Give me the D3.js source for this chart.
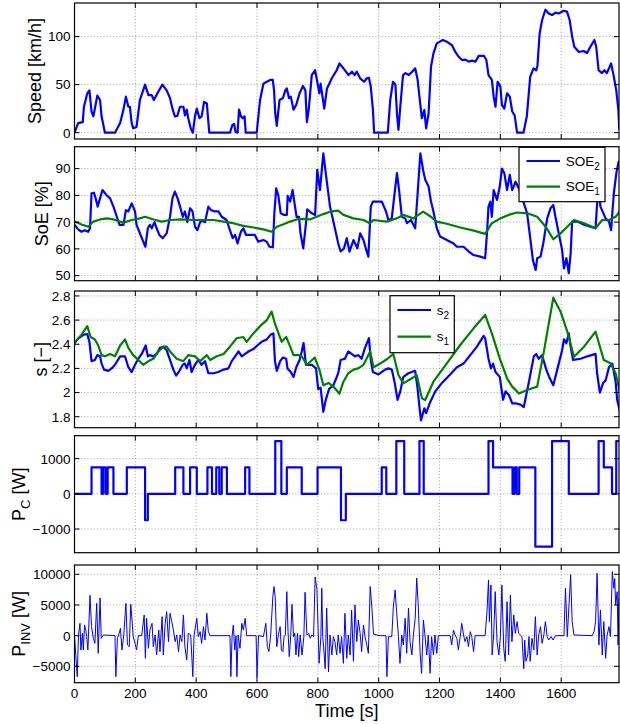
<!DOCTYPE html>
<html><head><meta charset="utf-8">
<script src="https://cdn.jsdelivr.net/npm/d3@7"></script>
<style>body{margin:0;background:#fff}svg{display:block}text{font-family:"Liberation Sans",Arial,Helvetica,sans-serif;fill:#000}</style>
</head><body><svg id="c" width="620" height="724"></svg>
<script>
// ---------------- DATA ----------------
const xTicks = [0,200,400,600,800,1000,1200,1400,1600];
const speedTicks = [0,50,100];
const soeTicks = [50,60,70,80,90];
const sTicks = [1.8,2,2.2,2.4,2.6,2.8];
const pcTicks = [-1000,0,1000];
const pinvTicks = [-5000,0,5000,10000];

const speed = [[0,0],[12,10],[27,11],[31,27],[42,41],[49,44],[56,22],[62,17],[75,38.5],[84,34],[89,17],[100,0],[133,0],[150,10],[161,24],[169,37.5],[177,27],[182,27],[188,10],[193,4.5],[204,6],[215,34],[232,50],[243,39],[254,39],[261,34],[276,43],[289,50],[303,44],[314,36],[322,25],[330,17],[338,17.5],[347,27],[358,27],[363,18],[369,24],[374,15],[382,4.5],[389,0],[396,17],[402,25],[411,15],[418,17],[426,32],[435,30.5],[443,0],[511,0],[519,8],[525,9],[529,1],[536,0],[541,24],[547,17],[553,15],[559,17],[563,0],[599,0],[610,34],[621,51],[632,53],[645,55],[652,55],[656,44],[660,20],[665,7],[674,34],[685,36],[693,44],[698,46],[705,36],[711,37.5],[720,24],[729,29],[740,41],[751,48.6],[759,44],[764,11],[770,24],[780,60],[791,65],[798,53],[805,41],[809,51],[821,25],[830,46],[846,56.6],[862,65],[871,72],[884,67],[901,60],[912,63.5],[921,60],[928,63.5],[939,56.6],[952,53],[961,56.6],[968,57],[974,48],[981,24],[985,0],[1030,0],[1038,34],[1047,53],[1055,50],[1060,20],[1065,3],[1071,27],[1080,60],[1088,62],[1099,60],[1110,63.5],[1120,67],[1128,55],[1134,37.5],[1142,15],[1150,23.6],[1156,4.5],[1164,20],[1172,68.7],[1180,82.6],[1191,93],[1211,96.5],[1224,94.7],[1241,91],[1252,84],[1263,79],[1274,75.6],[1285,76],[1296,74],[1307,75],[1318,74],[1329,80],[1346,80],[1354,75.6],[1361,60],[1372,55],[1378,37.5],[1384,27],[1391,53],[1400,48],[1405,29],[1413,25],[1422,41],[1431,37.5],[1439,22],[1447,18],[1455,0],[1476,0],[1487,17],[1498,58],[1509,67],[1518,65],[1522,70],[1529,103],[1537,117],[1548,128],[1559,124],[1570,122.5],[1581,125],[1592,124],[1608,127],[1619,126],[1628,117],[1636,100],[1643,89.5],[1658,84],[1674,85],[1685,83],[1696,89.5],[1709,96.5],[1715,89.5],[1723,65],[1734,62],[1742,65],[1750,62],[1764,72],[1772,60],[1781,44],[1788,23.6],[1791,3]];

const soe2 = [[0,69],[12,67.3],[23,66.4],[34,67],[45,66.4],[51,67.7],[56,80.8],[64,81],[71,78.3],[76,75.8],[84,78.9],[92,82],[106,80],[117,78.9],[128,75.8],[139,72],[148,69],[161,69],[169,74.5],[177,74],[188,77],[199,74],[204,69],[213,66.4],[224,63.3],[233,60.8],[241,67.7],[248,69],[254,67.7],[263,70],[270,67.7],[279,65.2],[290,64],[303,65.8],[314,72],[322,78.9],[330,81.4],[339,78.9],[347,75.8],[356,72],[363,74],[371,70],[380,75.2],[388,74],[396,68.3],[404,67],[413,70],[421,70.5],[429,70],[440,75.8],[449,74.5],[462,74],[473,74],[484,72],[500,70.8],[511,67],[520,64],[528,65.2],[536,62],[547,66.4],[555,67.7],[564,65.2],[579,65.2],[593,65.2],[604,62.7],[621,63.3],[632,62.7],[641,60.8],[652,60.6],[657,73.3],[663,82.6],[670,80],[678,73.3],[689,72.7],[698,72.7],[701,79.8],[709,77.7],[717,82],[725,75.8],[730,72],[738,72],[743,65.8],[752,60.2],[761,69.6],[765,74.8],[780,73.3],[791,72.7],[798,89.5],[807,82],[818,95.7],[826,88.3],[840,75.8],[856,67.7],[867,62],[875,59],[886,60.2],[895,64],[904,59],[917,63.3],[930,60.2],[939,65.8],[950,63.3],[959,59.6],[966,57.1],[974,75.8],[981,77.7],[1010,77.7],[1024,74],[1032,70.8],[1043,71.4],[1051,79.5],[1060,88.3],[1067,82],[1076,72],[1087,71.4],[1093,69.6],[1106,70.8],[1120,67.7],[1128,80.8],[1137,95.7],[1146,89.5],[1153,85.8],[1164,83.3],[1172,77.7],[1180,74],[1191,67.7],[1202,64.6],[1224,63.3],[1246,62],[1257,60.8],[1279,60.8],[1296,59],[1312,57.7],[1334,57.1],[1350,56.5],[1356,65.8],[1361,75.8],[1367,77.7],[1372,72],[1378,82],[1389,78.3],[1398,83.3],[1405,90],[1413,88.3],[1422,82],[1431,87.7],[1439,82],[1450,85.1],[1461,82.6],[1472,78.9],[1488,73.3],[1499,63.3],[1507,55.8],[1516,52.1],[1521,56.5],[1532,57.1],[1541,62],[1554,71.4],[1565,75.2],[1574,76.4],[1581,72],[1592,65.8],[1603,59.6],[1609,52.7],[1617,56.5],[1625,50.9],[1631,58.3],[1636,70.2],[1653,70.2],[1675,69],[1696,68.3],[1713,67.7],[1718,77],[1724,82],[1729,75.8],[1746,71.4],[1757,70.2],[1764,67],[1773,80.8],[1782,88.9],[1789,92.6],[1794,92]];

const soe1 = [[0,70.2],[25,69],[45,68.3],[62,70.2],[84,71],[106,71.4],[128,71],[161,69.8],[188,70.8],[215,71.4],[232,72],[260,71],[287,70.2],[314,70.8],[352,71],[391,70.8],[424,70.8],[457,70.8],[490,70.2],[522,69.6],[555,68.6],[588,68],[621,67.3],[648,66.4],[665,68.3],[687,69.2],[709,70.2],[730,71],[752,71.2],[774,71],[796,72],[818,73],[840,73.9],[867,74.3],[884,72.7],[917,71.4],[950,70.8],[971,69.6],[983,70.8],[1026,70.2],[1059,71.4],[1081,72.7],[1114,71.4],[1146,73.9],[1168,72.3],[1191,70.2],[1224,69.4],[1268,68],[1312,66.8],[1350,65.6],[1372,69.6],[1400,71.4],[1427,72.7],[1455,73.6],[1488,73.3],[1521,72],[1549,68.3],[1574,63.6],[1598,65.8],[1620,68.3],[1642,70.8],[1675,69.6],[1713,67.7],[1735,70.8],[1757,70.8],[1779,72],[1794,74.3]];

const s2 = [[0,2.41],[13,2.45],[31,2.48],[42,2.485],[49,2.42],[56,2.26],[67,2.27],[75,2.31],[84,2.30],[89,2.24],[97,2.19],[111,2.18],[122,2.20],[133,2.23],[150,2.30],[166,2.30],[177,2.21],[188,2.17],[199,2.23],[210,2.28],[221,2.32],[234,2.39],[241,2.30],[248,2.31],[257,2.30],[270,2.32],[281,2.37],[292,2.38],[303,2.35],[314,2.27],[325,2.19],[334,2.14],[345,2.18],[356,2.23],[363,2.24],[369,2.20],[378,2.27],[385,2.17],[396,2.23],[407,2.27],[418,2.23],[429,2.26],[440,2.16],[457,2.16],[473,2.17],[490,2.19],[506,2.20],[517,2.26],[528,2.30],[539,2.34],[550,2.30],[561,2.32],[572,2.34],[588,2.36],[601,2.39],[615,2.42],[632,2.44],[645,2.48],[654,2.49],[659,2.26],[665,2.18],[676,2.26],[685,2.29],[696,2.28],[700,2.20],[711,2.17],[720,2.13],[729,2.21],[740,2.27],[747,2.34],[753,2.41],[761,2.23],[780,2.23],[794,2.20],[801,2.03],[809,2.04],[818,1.84],[826,1.94],[837,2.03],[851,2.06],[867,2.16],[875,2.27],[889,2.28],[900,2.34],[911,2.32],[922,2.30],[933,2.31],[944,2.28],[955,2.37],[968,2.45],[974,2.27],[981,2.17],[999,2.15],[1021,2.19],[1032,2.20],[1043,2.19],[1052,2.09],[1062,1.94],[1071,2.01],[1081,2.13],[1098,2.16],[1120,2.18],[1128,2.03],[1134,1.88],[1139,1.77],[1150,1.87],[1156,1.83],[1169,1.92],[1186,2.01],[1208,2.08],[1235,2.15],[1257,2.21],[1279,2.24],[1301,2.31],[1323,2.38],[1345,2.47],[1350,2.45],[1361,2.28],[1369,2.20],[1376,2.24],[1384,2.17],[1398,2.13],[1409,1.94],[1417,2.01],[1428,1.98],[1439,1.91],[1453,1.91],[1466,1.90],[1477,1.88],[1494,2.09],[1510,2.30],[1518,2.32],[1526,2.28],[1537,2.31],[1551,2.19],[1562,2.12],[1574,2.06],[1587,2.19],[1603,2.35],[1609,2.44],[1617,2.41],[1625,2.49],[1631,2.38],[1639,2.27],[1664,2.28],[1686,2.30],[1713,2.32],[1718,2.16],[1727,2.0],[1738,2.08],[1746,2.10],[1757,2.21],[1768,2.24],[1779,2.09],[1784,1.94],[1793,1.84]];

const s1 = [[0,2.41],[23,2.48],[42,2.55],[53,2.46],[67,2.44],[78,2.39],[89,2.31],[100,2.30],[117,2.32],[133,2.30],[150,2.39],[166,2.44],[177,2.37],[193,2.31],[210,2.27],[226,2.23],[243,2.26],[259,2.28],[276,2.34],[292,2.38],[303,2.38],[314,2.34],[336,2.28],[358,2.26],[374,2.31],[396,2.30],[413,2.26],[435,2.31],[446,2.27],[468,2.30],[490,2.32],[511,2.38],[533,2.45],[555,2.46],[566,2.42],[588,2.49],[610,2.55],[632,2.60],[648,2.67],[659,2.57],[681,2.42],[696,2.46],[709,2.38],[720,2.31],[736,2.31],[747,2.30],[764,2.23],[790,2.29],[805,2.19],[818,2.06],[835,2.08],[851,2.05],[871,1.99],[884,2.09],[900,2.16],[917,2.19],[933,2.20],[950,2.23],[972,2.34],[983,2.21],[1005,2.24],[1029,2.28],[1048,2.32],[1065,2.145],[1081,2.076],[1109,2.118],[1125,2.145],[1142,1.952],[1153,1.938],[1180,2.09],[1224,2.242],[1268,2.394],[1312,2.532],[1350,2.643],[1372,2.49],[1398,2.283],[1422,2.118],[1439,2.049],[1461,1.993],[1488,2.021],[1521,2.049],[1543,2.339],[1574,2.786],[1598,2.67],[1620,2.504],[1642,2.297],[1675,2.38],[1713,2.504],[1740,2.27],[1762,2.242],[1779,2.159],[1794,1.993]];

// P_C: switching instants and the level held from each instant on
const pcT = [0,56,89,94,102,109,128,172,232,241,331,358,380,402,437,452,466,476,484,501,561,575,660,680,698,747,799,876,892,1010,1025,1058,1084,1134,1148,1361,1376,1440,1447,1454,1462,1515,1570,1625,1723,1740,1767,1781,1790];
const pcV = [0,750,0,750,0,750,0,750,-750,0,750,0,750,0,750,0,750,0,750,0,750,0,1500,0,750,0,750,-750,0,750,0,1500,0,1500,0,1500,750,0,750,0,750,-1500,1500,0,1500,750,0,1500,1500];

const pinvT = [0,9,13,18,21,26,29,33,37,40,44,51,56,62,67,73,78,84,88,95,133,136,141,147,151,156,162,169,174,180,185,189,193,199,204,210,221,229,233,237,243,248,255,259,265,270,277,281,288,292,298,303,309,314,320,325,331,336,342,347,353,358,363,369,374,382,389,393,402,407,413,418,424,429,435,440,446,511,514,518,522,527,531,534,538,544,550,555,561,566,597,600,605,621,629,634,639,645,652,656,660,665,670,676,680,685,689,693,698,702,706,711,715,720,724,728,733,737,742,748,754,758,764,770,775,780,786,791,797,804,810,813,816,821,824,829,835,840,846,851,856,862,867,873,878,884,889,895,900,906,911,917,922,928,933,939,944,950,955,961,966,972,977,983,1005,1024,1027,1032,1043,1048,1054,1059,1065,1070,1076,1081,1087,1092,1098,1103,1109,1114,1120,1125,1130,1136,1141,1147,1152,1158,1163,1169,1174,1180,1185,1191,1196,1235,1240,1246,1251,1257,1262,1268,1273,1279,1284,1290,1295,1301,1306,1312,1317,1350,1356,1361,1364,1369,1373,1378,1383,1389,1395,1400,1405,1411,1416,1422,1427,1433,1438,1444,1449,1455,1460,1471,1477,1480,1484,1490,1494,1498,1504,1510,1515,1521,1526,1532,1537,1543,1548,1554,1559,1567,1573,1581,1609,1614,1620,1631,1636,1642,1702,1708,1713,1718,1724,1729,1735,1740,1746,1751,1757,1762,1768,1773,1776,1779,1784,1787,1790];
const pinvV = [0,-6685,0,2011,-2337,380,-2337,1739,924,-163,-2337,6576,1467,-435,-1250,5272,-2880,6141,-435,109,0,-6685,-435,380,1196,-2337,109,5272,-1522,-1793,5109,2554,-163,-1250,-2337,0,0,3370,-3696,2826,-2065,924,2011,-1793,109,-3152,924,-2609,3098,-3152,2011,3913,-978,3641,2283,924,-978,109,-2609,109,-978,3370,-1793,-3967,380,109,-6685,0,2826,-163,652,-1250,1467,-707,3641,652,0,0,-6685,-163,1739,-2337,0,-6685,109,-2065,2011,924,2826,0,0,-6848,0,-163,2011,-1793,-2609,109,6413,8000,6141,-1793,109,1467,-2337,-2609,-163,109,7174,652,-3424,109,5109,-163,380,-3152,380,-3424,109,-3152,-163,7065,109,380,-435,109,-163,9565,7609,-4511,-163,7717,-163,-3152,-5380,4511,-5924,109,-3152,-163,-978,-3152,109,-2880,-163,-4511,3641,-3696,109,-3152,4185,-4185,5000,-978,2554,380,-2609,1739,-163,-1522,-2880,8000,5000,217,0,0,-6685,-163,-163,4511,7446,3913,-163,-4511,109,-1522,2826,-2880,4511,-978,-3152,109,2826,9402,5000,-2609,-6141,2554,109,-3152,109,-6141,-163,-3152,109,-2880,0,0,-1522,924,109,-435,-2337,-163,2011,109,-978,-163,-1793,652,-163,-2609,0,0,3913,9078,2283,8261,-3152,109,7174,-978,-3152,-163,8261,-2065,-4185,5544,-3152,6630,-978,3370,380,2283,380,-163,-5380,-707,-4185,-3152,-163,-4185,-435,-2337,3098,-3152,109,1467,-1250,109,2283,-163,-707,-163,-707,0,0,7717,-163,9946,2283,109,0,652,2283,10163,-1522,4185,-3152,2283,-3696,109,1467,-163,10435,7717,9293,5000,7174,-1522,6087];

// ---------------- DRAWING ----------------
const svg = d3.select('#c');
const X0 = 74.5, X1 = 619;
const x = d3.scaleLinear().domain([0,1790]).range([X0,X1]);
const BLUE = '#0000ff', GREEN = '#008000';

function panel(cfg, idx){
  const y = d3.scaleLinear().domain(cfg.domain).range([cfg.bottom, cfg.top]);
  const g = svg.append('g');
  const cid = 'clip'+idx;
  svg.append('clipPath').attr('id',cid).append('rect')
    .attr('x',X0).attr('y',cfg.top).attr('width',X1-X0).attr('height',cfg.bottom-cfg.top);
  // grid
  g.selectAll('.gx').data(xTicks.filter(t=>t>0)).join('line')
    .attr('x1',d=>x(d)).attr('x2',d=>x(d)).attr('y1',cfg.top).attr('y2',cfg.bottom)
    .attr('stroke','#8a8a8a').attr('stroke-width',0.8).attr('stroke-dasharray','1,2.2');
  g.selectAll('.gy').data(cfg.ticks).join('line')
    .attr('y1',d=>y(d)).attr('y2',d=>y(d)).attr('x1',X0).attr('x2',X1)
    .attr('stroke','#8a8a8a').attr('stroke-width',0.8).attr('stroke-dasharray','1,2.2');
  // series
  const lg = g.append('g').attr('clip-path','url(#'+cid+')');
  cfg.series.forEach(s=>{
    const line = d3.line().x(d=>x(d[0])).y(d=>y(d[1]));
    if (s.curve) line.curve(s.curve);
    lg.append('path').datum(s.data).attr('d',line).attr('fill','none')
      .attr('stroke',s.color).attr('stroke-width',s.width).attr('stroke-linejoin','round');
  });
  // ticks (inward, all four sides)
  const tl = 5;
  const tk = g.append('g').attr('stroke','#000').attr('stroke-width',1);
  xTicks.forEach(t=>{
    tk.append('line').attr('x1',x(t)).attr('x2',x(t)).attr('y1',cfg.bottom).attr('y2',cfg.bottom-tl);
    tk.append('line').attr('x1',x(t)).attr('x2',x(t)).attr('y1',cfg.top).attr('y2',cfg.top+tl);
  });
  cfg.ticks.forEach(t=>{
    tk.append('line').attr('x1',X0).attr('x2',X0+tl).attr('y1',y(t)).attr('y2',y(t));
    tk.append('line').attr('x1',X1).attr('x2',X1-tl).attr('y1',y(t)).attr('y2',y(t));
  });
  // box
  g.append('rect').attr('x',X0).attr('y',cfg.top).attr('width',X1-X0).attr('height',cfg.bottom-cfg.top)
    .attr('fill','none').attr('stroke','#000').attr('stroke-width',1.2);
  // y tick labels
  g.selectAll('.yl').data(cfg.ticks).join('text')
    .attr('x',X0-4).attr('y',d=>y(d)).attr('dy','0.36em').attr('text-anchor','end')
    .attr('font-size',13.5).text(d=>d3.format('')(d));
  // y label
  const yc = (cfg.top+cfg.bottom)/2;
  const lab = g.append('text').attr('transform',`translate(${cfg.labelX},${yc}) rotate(-90)`)
    .attr('text-anchor','middle').attr('font-size',18);
  lab.append('tspan').text(cfg.label[0]);
  if (cfg.label.length>1){
    lab.append('tspan').attr('font-size',13).attr('dy',5).text(cfg.label[1]);
    lab.append('tspan').attr('dy',-5).text(cfg.label[2]);
  }
  if (cfg.legend){
    const L = cfg.legend;
    g.append('rect').attr('x',L.x).attr('y',L.y).attr('width',L.w).attr('height',L.h)
      .attr('fill','#fff').attr('stroke','#000').attr('stroke-width',1.2);
    L.items.forEach((it,i)=>{
      const ry = L.y + L.rows[i];
      g.append('line').attr('x1',L.x+7.5).attr('x2',L.x+41).attr('y1',ry).attr('y2',ry)
        .attr('stroke',it.color).attr('stroke-width',2.2);
      const t = g.append('text').attr('x',L.x+L.tx).attr('y',ry+4.5).attr('font-size',13.5);
      t.append('tspan').text(it.name);
      t.append('tspan').attr('font-size',10).attr('dy',4).text(it.sub);
    });
  }
  return y;
}

const pcData = pcT.map((t,i)=>[t,pcV[i]]);
const pinvData = pinvT.map((t,i)=>[t,pinvV[i]]);

const panels = [
  {top:3, bottom:139, domain:[-6.6,135], ticks:speedTicks, label:['Speed [km/h]'], labelX:41,
   series:[{data:speed,color:BLUE,width:2.2}]},
  {top:146.7, bottom:280.7, domain:[48.1,98.2], ticks:soeTicks, label:['SoE [%]'], labelX:48,
   series:[{data:soe2,color:BLUE,width:2.2},{data:soe1,color:GREEN,width:2.2}],
   legend:{x:519,y:147.3,w:86,h:54.4,rows:[13.7,39.4],tx:46.7,
     items:[{name:'SOE',sub:'2',color:BLUE},{name:'SOE',sub:'1',color:GREEN}]}},
  {top:291, bottom:427.7, domain:[1.709,2.841], ticks:sTicks, label:['s [\u2212]'], labelX:46.5,
   series:[{data:s2,color:BLUE,width:2.2},{data:s1,color:GREEN,width:2.2}],
   legend:{x:390,y:295.7,w:64.3,h:57,rows:[14.3,41],tx:46.7,
     items:[{name:'s',sub:'2',color:BLUE},{name:'s',sub:'1',color:GREEN}]}},
  {top:435.7, bottom:552.7, domain:[-1673,1653], ticks:pcTicks, label:['P','C',' [W]'], labelX:25,
   series:[{data:pcData,color:BLUE,width:2.2,curve:d3.curveStepAfter}]},
  {top:565, bottom:682.7, domain:[-7670,11516], ticks:pinvTicks, label:['P','INV',' [W]'], labelX:25,
   series:[{data:pinvData,color:BLUE,width:1}]}
];
panels.forEach((p,i)=>panel(p,i));

// x tick labels on bottom panel
svg.selectAll('.xl').data(xTicks).join('text')
  .attr('x',d=>x(d)).attr('y',697.5).attr('text-anchor','middle').attr('font-size',13.5).text(d=>d);
svg.append('text').attr('x',(X0+X1)/2).attr('y',716.5).attr('text-anchor','middle')
  .attr('font-size',18).text('Time [s]');
</script></body></html>
